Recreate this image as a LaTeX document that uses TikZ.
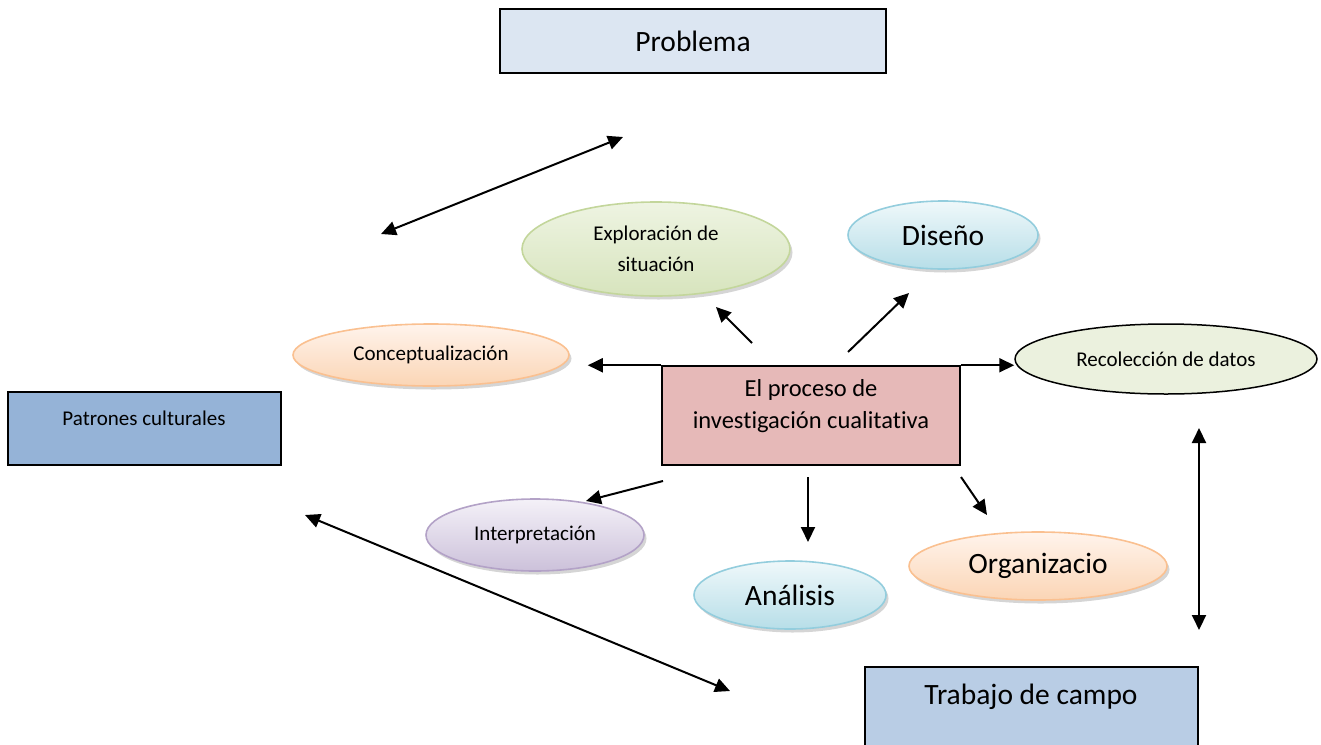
\documentclass[tikz,border=0pt]{standalone}
\usepackage{fontspec}
\setmainfont{Carlito}[Ligatures={NoCommon}]
\usetikzlibrary{shapes.geometric,arrows.meta,shadows}
\definecolor{probfill}{HTML}{DCE6F2}
\definecolor{patfill}{HTML}{95B3D7}
\definecolor{trabfill}{HTML}{B9CDE5}
\definecolor{cenfill}{HTML}{E6B9B8}
\definecolor{recfill}{HTML}{EBF1DE}
\definecolor{grnline}{HTML}{C3D69B}
\definecolor{grntop}{HTML}{EEF4E2}
\definecolor{grnbot}{HTML}{D7E4BD}
\definecolor{bluline}{HTML}{93CDDD}
\definecolor{blutop}{HTML}{EFF8FA}
\definecolor{blubot}{HTML}{B7DEE8}
\definecolor{orgline}{HTML}{FAC090}
\definecolor{orgtop}{HTML}{FFF4EC}
\definecolor{orgbot}{HTML}{FBD5B5}
\definecolor{purline}{HTML}{B3A2C7}
\definecolor{purtop}{HTML}{F4F1F8}
\definecolor{purbot}{HTML}{CCC1DA}
\begin{document}
\begin{tikzpicture}[x=1pt,y=-1pt,
  tip/.tip={Triangle[length=15pt,width=14pt]},
  arr/.style={line width=2pt,-tip},
  dbl/.style={line width=2pt,tip-tip},
  box/.style={rectangle,draw=black,line width=1.5pt,inner sep=0pt},
  oval/.style={ellipse,inner sep=0pt,line width=1.6pt,align=center,
    drop shadow={shadow xshift=2.5pt,shadow yshift=-3.5pt,opacity=0.3,fill=black!55}},
  grn/.style={oval,draw=grnline,top color=grntop,bottom color=grnbot},
  blu/.style={oval,draw=bluline,top color=blutop,bottom color=blubot},
  org/.style={oval,draw=orgline,top color=orgtop,bottom color=orgbot},
  pur/.style={oval,draw=purline,top color=purtop,bottom color=purbot},
  small/.style={font=\fontsize{21}{31}\selectfont},
  mid/.style={font=\fontsize{24.5}{32}\selectfont},
  big/.style={font=\fontsize{29.5}{34}\selectfont}]
\clip (0,0) rectangle (1321,744);
\useasboundingbox (0,0) rectangle (1321,744);

% boxes
\node[box,fill=probfill,minimum width=386,minimum height=64,big] (prob) at (693,41) {Problema};
\node[box,fill=patfill,minimum width=273,minimum height=73] (pat) at (144.5,428.5) {};
\node[small,anchor=center] (pattxt) at (144,418) {Patrones culturales};
\node[box,fill=trabfill,minimum width=333,minimum height=100] (trab) at (1031.5,717) {};
\node[big,anchor=center] (trabtxt) at (1031,697) {Trabajo de campo};
\node[box,fill=cenfill,minimum width=298,minimum height=99,mid,align=center] (cen) at (811,415.5)
  {El proceso de\\investigación cualitativa\\[-8pt]};

% ellipses
\node[grn,minimum width=268,minimum height=94,small] (explo) at (656,249) {Exploración de\\situación};
\node[blu,minimum width=190,minimum height=68,big] (dis) at (943,235) {Diseño};
\node[org,minimum width=276,minimum height=62,small] (conc) at (431,355) {Conceptualización};
\node[ellipse,draw=black,line width=1.5pt,fill=recfill,inner sep=0pt,
  minimum width=302,minimum height=70,small] (rec) at (1166,359) {Recolección de datos\\[10pt]};
\node[pur,minimum width=218,minimum height=72,small] (interp) at (535,535) {Interpretación};
\node[blu,minimum width=192,minimum height=68,big] (anal) at (790,595) {Análisis};
\node[org,minimum width=258,minimum height=68,big] (orgz) at (1038,566) {Organizacio};

% arrow end points
\coordinate (e1a) at (752,343);  \coordinate (e1b) at (716,307);
\coordinate (e2a) at (848,352);  \coordinate (e2b) at (909,293);
\coordinate (e3a) at (663,481);  \coordinate (e3b) at (586,501);
\coordinate (e4a) at (808,477);  \coordinate (e4b) at (808,542);
\coordinate (e5a) at (961,477);  \coordinate (e5b) at (987,515);
\coordinate (d1a) at (381,234);  \coordinate (d1b) at (623,137);
\coordinate (d2a) at (305,515);  \coordinate (d2b) at (730,691);
\coordinate (d3a) at (1199,428); \coordinate (d3b) at (1199,630);

% arrows from the central box
\draw[arr] (cen.north west) -- ([xshift=18pt]conc.east |- cen.north);
\draw[arr] (cen.north east) -- (rec.west |- cen.north);
\draw[arr] (e1a) -- (e1b);
\draw[arr] (e2a) -- (e2b);
\draw[arr] (e3a) -- (e3b);
\draw[arr] (e4a) -- (e4b);
\draw[arr] (e5a) -- (e5b);

% double arrows
\draw[dbl] (d1a) -- (d1b);
\draw[dbl] (d2a) -- (d2b);
\draw[dbl] (d3a) -- (d3b);
\end{tikzpicture}
\end{document}
